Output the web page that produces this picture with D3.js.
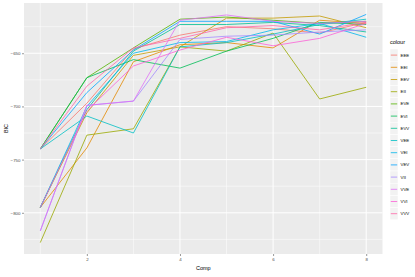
<!DOCTYPE html>
<html>
<head>
<meta charset="utf-8">
<script src="https://cdn.jsdelivr.net/npm/d3@7"></script>
<style>
  body { margin: 0; background: #fff; }
  svg { display: block; font-family: "Liberation Sans", Arial, sans-serif; }
</style>
</head>
<body>
<svg id="chart" width="415" height="277"></svg>
<script>
// Number of mixture components
const comps = [1, 2, 3, 4, 5, 6, 7, 8];

// Model names, in legend order
const models = ["EEE", "EEI", "EEV", "EII", "EVE", "EVI", "EVV",
                "VEE", "VEI", "VEV", "VII", "VVE", "VVI", "VVV"];

// BIC per model, one value per component count
const bicEEE = [-740, -697, -646, -633, -625, -627, -631, -621];
const bicEEI = [-795, -739, -658, -642, -640, -645, -619, -622];
const bicEEV = [-795, -706, -652, -644, -617, -617, -615, -626];
const bicEII = [-828, -727, -721, -644, -648, -631, -693, -682];
const bicEVE = [-740, -673, -645, -618, -616, -619, -622, -620];
const bicEVI = [-740, -673, -656, -664, -648, -636, -621, -623];
const bicEVV = [-795, -703, -648, -623, -623, -621, -624, -630];
const bicVEE = [-740, -709, -725, -644, -640, -632, -623, -618];
const bicVEI = [-795, -700, -650, -640, -639, -628, -622, -635];
const bicVEV = [-740, -687, -647, -620, -620, -620, -632, -613.5];
const bicVII = [-817, -699, -695, -637, -634, -633, -630, -628];
const bicVVE = [-817, -699, -695, -619, -614, -620, -622, -620];
const bicVVI = [-795, -704, -662, -647, -635, -643, -636, -622];
const bicVVV = [-740, -681, -645, -636, -626, -624, -628, -621];

const yTicks = [-800, -750, -700, -650];
const xTicks = [2, 4, 6, 8];

// ggplot2 default hue palette for 14 levels
const colours = ["#F8766D", "#E38900", "#C49A00", "#99A800", "#53B400", "#00BC56", "#00C094",
                 "#00BFC4", "#00B6EB", "#06A4FF", "#A58AFF", "#DF70F8", "#FB61D7", "#FF66A8"];

const bicValues = [bicEEE, bicEEI, bicEEV, bicEII, bicEVE, bicEVI, bicEVV,
                   bicVEE, bicVEI, bicVEV, bicVII, bicVVE, bicVVI, bicVVV];
const series = models.map((m, i) => ({
  model: m,
  values: comps.map((c, j) => ({ comp: c, bic: bicValues[i][j] }))
}));

// Panel geometry
const panel = { left: 24, right: 382.5, top: 3, bottom: 254 };

const svg = d3.select("#chart");

// Scales with ggplot-like 5% expansion
const xExt = d3.extent(comps);
const xPad = (xExt[1] - xExt[0]) * 0.05;
const x = d3.scaleLinear()
  .domain([xExt[0] - xPad, xExt[1] + xPad])
  .range([panel.left, panel.right]);

const yExt = d3.extent(bicValues.flat());
const yPad = (yExt[1] - yExt[0]) * 0.05;
const y = d3.scaleLinear()
  .domain([yExt[0] - yPad, yExt[1] + yPad])
  .range([panel.bottom, panel.top]);

const colour = d3.scaleOrdinal().domain(models).range(colours);

// Panel background
svg.append("rect")
  .attr("x", panel.left)
  .attr("y", panel.top)
  .attr("width", panel.right - panel.left)
  .attr("height", panel.bottom - panel.top)
  .attr("fill", "#EBEBEB");

// Grid: minor then major
const grid = svg.append("g");
const xMinor = [1, 3, 5, 7];
const yMinor = [-825, -775, -725, -675, -625];
grid.selectAll(".xminor").data(xMinor).join("line")
  .attr("x1", d => x(d)).attr("x2", d => x(d))
  .attr("y1", panel.top).attr("y2", panel.bottom)
  .attr("stroke", "#fff").attr("stroke-width", 0.5);
grid.selectAll(".yminor").data(yMinor.filter(v => y(v) > panel.top && y(v) < panel.bottom)).join("line")
  .attr("x1", panel.left).attr("x2", panel.right)
  .attr("y1", d => y(d)).attr("y2", d => y(d))
  .attr("stroke", "#fff").attr("stroke-width", 0.5);
grid.selectAll(".xmajor").data(xTicks).join("line")
  .attr("x1", d => x(d)).attr("x2", d => x(d))
  .attr("y1", panel.top).attr("y2", panel.bottom)
  .attr("stroke", "#fff").attr("stroke-width", 1);
grid.selectAll(".ymajor").data(yTicks).join("line")
  .attr("x1", panel.left).attr("x2", panel.right)
  .attr("y1", d => y(d)).attr("y2", d => y(d))
  .attr("stroke", "#fff").attr("stroke-width", 1);

// Lines
const line = d3.line()
  .x(d => x(d.comp))
  .y(d => y(d.bic));

svg.append("g")
  .selectAll("path")
  .data(series)
  .join("path")
    .attr("fill", "none")
    .attr("stroke", d => colour(d.model))
    .attr("stroke-width", 0.8)
    .attr("stroke-linejoin", "round")
    .attr("d", d => line(d.values));

// Axes
const fmt = d => d3.format("")(d).replace("-", "\u2212");
const yAxis = g => g
  .attr("transform", `translate(${panel.left},0)`)
  .call(d3.axisLeft(y).tickValues(yTicks).tickSize(2).tickPadding(1.5).tickFormat(fmt))
  .call(g => g.select(".domain").remove())
  .call(g => g.selectAll(".tick line").attr("stroke", "#333333").attr("stroke-width", 0.5))
  .call(g => g.selectAll(".tick text").attr("fill", "#4D4D4D").attr("font-size", 4.4)
    .attr("font-family", "Liberation Sans, Arial, sans-serif"));
const xAxis = g => g
  .attr("transform", `translate(0,${panel.bottom})`)
  .call(d3.axisBottom(x).tickValues(xTicks).tickSize(2).tickPadding(1.5))
  .call(g => g.select(".domain").remove())
  .call(g => g.selectAll(".tick line").attr("stroke", "#333333").attr("stroke-width", 0.5))
  .call(g => g.selectAll(".tick text").attr("fill", "#4D4D4D").attr("font-size", 4.4)
    .attr("font-family", "Liberation Sans, Arial, sans-serif"));

svg.append("g").call(yAxis);
svg.append("g").call(xAxis);

// Axis titles
svg.append("text")
  .attr("x", (panel.left + panel.right) / 2)
  .attr("y", 270)
  .attr("text-anchor", "middle")
  .attr("font-size", 5.5)
  .text("Comp");
svg.append("text")
  .attr("transform", `translate(7.5,${(panel.top + panel.bottom) / 2}) rotate(-90)`)
  .attr("text-anchor", "middle")
  .attr("font-size", 5.5)
  .text("BIC");

// Legend
const legend = svg.append("g").attr("transform", "translate(390,0)");
legend.append("text")
  .attr("x", 0).attr("y", 44)
  .attr("font-size", 5.5)
  .text("colour");
const keyH = 12.2, keyW = 8, keyTop = 49;
const keys = legend.selectAll(".key")
  .data(models)
  .join("g")
    .attr("transform", (d, i) => `translate(0,${keyTop + i * keyH})`);
keys.append("rect")
  .attr("width", keyW).attr("height", keyH)
  .attr("fill", "#F2F2F2")
  .attr("stroke", "#fff").attr("stroke-width", 0.5);
keys.append("line")
  .attr("x1", 0.8).attr("x2", keyW - 0.8)
  .attr("y1", keyH / 2).attr("y2", keyH / 2)
  .attr("stroke", d => colour(d))
  .attr("stroke-width", 0.8);
keys.append("text")
  .attr("x", keyW + 2.5)
  .attr("y", keyH / 2)
  .attr("dy", "0.35em")
  .attr("font-size", 4.4)
  .attr("fill", "#000")
  .text(d => d);
</script>
</body>
</html>
